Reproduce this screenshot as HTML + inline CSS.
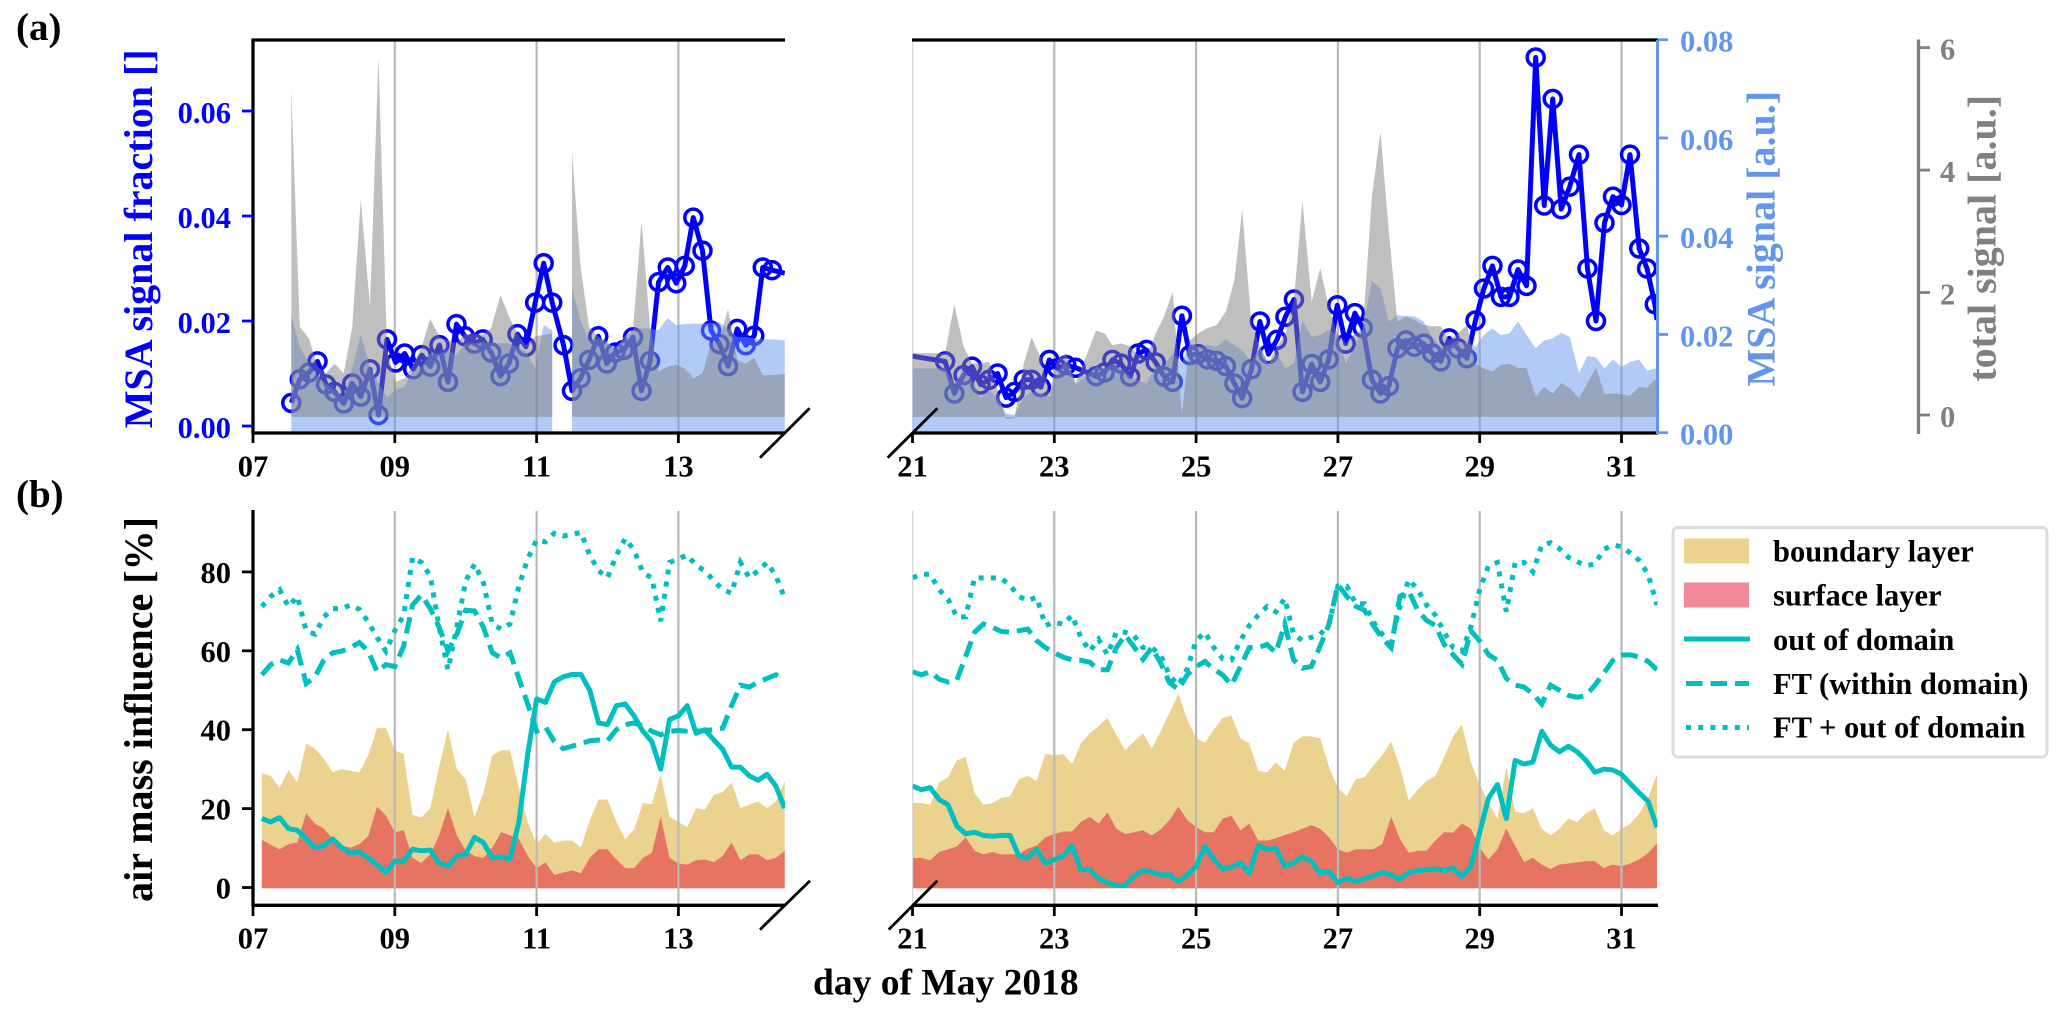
<!DOCTYPE html>
<html>
<head>
<meta charset="utf-8">
<title>MSA signal and air mass influence, May 2018</title>
<style>
html,body{margin:0;padding:0;background:#fff;}
svg{display:block;}
text{font-family:"Liberation Serif",serif;font-weight:bold;}
</style>
</head>
<body>
<svg id="figure" xmlns="http://www.w3.org/2000/svg" width="2067" height="1016" viewBox="0 0 2067 1016">
  <defs>
    <clipPath id="clip-a-left"><rect x="253" y="40" width="532" height="393"/></clipPath>
    <clipPath id="clip-a-right"><rect x="912.5" y="40" width="745" height="393"/></clipPath>
    <clipPath id="clip-b-left"><rect x="253" y="505" width="532" height="400"/></clipPath>
    <clipPath id="clip-b-right"><rect x="912.5" y="505" width="745" height="400"/></clipPath>
  </defs>
  <g id="panel-a-left"></g>
  <g id="panel-a-right"></g>
  <g id="panel-b-left"></g>
  <g id="panel-b-right"></g>
  <g id="axes"></g>

  <text x="16" y="40" font-size="39" fill="#000">(a)</text>
  <text x="16" y="507" font-size="39" fill="#000">(b)</text>
  <text transform="translate(152,238.8) rotate(-90)" text-anchor="middle" font-size="40" fill="#0000ff">MSA signal fraction []</text>
  <text transform="translate(1774.5,238.7) rotate(-90)" text-anchor="middle" font-size="40" fill="#6495ed">MSA signal [a.u.]</text>
  <text transform="translate(1995.5,238.3) rotate(-90)" text-anchor="middle" font-size="40" fill="#808080">total signal [a.u.]</text>
  <text transform="translate(152,709.5) rotate(-90)" text-anchor="middle" font-size="40" fill="#000">air mass influence [%]</text>
  <text x="813" y="994.5" font-size="37.5" fill="#000">day of May 2018</text>

  <g>
    <rect x="1673" y="527.5" width="374" height="229.5" rx="5" fill="#fff" stroke="#dcdcdc" stroke-width="3"/>
    <rect x="1684" y="538.5" width="65" height="25" fill="#daa520" fill-opacity="0.5"/>
    <rect x="1684" y="582.5" width="65" height="25" fill="#e11535" fill-opacity="0.5"/>
    <line x1="1684" x2="1750" y1="639" y2="639" stroke="#00bfbf" stroke-width="5"/>
    <line x1="1686" x2="1749" y1="683.5" y2="683.5" stroke="#00bfbf" stroke-width="5" stroke-dasharray="16.5 8"/>
    <line x1="1686" x2="1749" y1="727.5" y2="727.5" stroke="#00bfbf" stroke-width="5" stroke-dasharray="5 7.2"/>
    <text x="1773" y="561.5" font-size="30.5" fill="#000">boundary layer</text>
    <text x="1773" y="605.5" font-size="30.5" fill="#000">surface layer</text>
    <text x="1773" y="650" font-size="30.5" fill="#000">out of domain</text>
    <text x="1773" y="694" font-size="30.5" fill="#000">FT (within domain)</text>
    <text x="1773" y="737.5" font-size="30.5" fill="#000">FT + out of domain</text>
  </g>
</svg>

<script>
// ---------- tick data ----------
const xTickDaysLeft = [7, 9, 11, 13];
const xTickDaysRight = [21, 23, 25, 27, 29, 31];
const xTickLabelsLeft = ["07", "09", "11", "13"];
const xTickLabelsRight = ["21", "23", "25", "27", "29", "31"];
const fractionTicks = [0, 0.02, 0.04, 0.06];
const fractionTickLabels = ["0.00", "0.02", "0.04", "0.06"];
const msaTicks = [0, 0.02, 0.04, 0.06, 0.08];
const msaTickLabels = ["0.00", "0.02", "0.04", "0.06", "0.08"];
const totalTicks = [0, 2, 4, 6];
const totalTickLabels = ["0", "2", "4", "6"];
const influenceTicks = [0, 20, 40, 60, 80];
const influenceTickLabels = ["0", "20", "40", "60", "80"];

// ---------- panel (a): first period ----------
const timesALeft = [7.54,7.66,7.79,7.91,8.03,8.15,8.28,8.40,8.52,8.65,8.77,8.89,9.01,9.14,9.26,9.38,9.50,9.63,9.75,9.87,9.99,10.12,10.24,10.36,10.49,10.61,10.73,10.85,10.98,11.10,11.22,11.38,11.50,11.62,11.74,11.87,11.99,12.11,12.23,12.36,12.48,12.60,12.72,12.85,12.97,13.09,13.21,13.34,13.46,13.58,13.70,13.83,13.95,14.07,14.19,14.32,14.5];
const fractionLeft = [0.0044,0.0089,0.0102,0.0123,0.0079,0.0065,0.0043,0.0081,0.0056,0.0108,0.0021,0.0165,0.0121,0.0138,0.0108,0.0135,0.0113,0.0154,0.0084,0.0194,0.0171,0.0157,0.0165,0.0140,0.0095,0.0119,0.0175,0.0151,0.0235,0.0310,0.0235,0.0154,0.0067,0.0091,0.0126,0.0171,0.0119,0.0140,0.0145,0.0169,0.0067,0.0124,0.0274,0.0302,0.0272,0.0305,0.0397,0.0334,0.0182,0.0156,0.0114,0.0185,0.0154,0.0172,0.0302,0.0297,0.0291];
const msaLeft = [0.0237,0.0175,0.0141,0.0114,0.0100,0.0087,0.0073,0.0134,0.0199,0.0134,0.0100,0.0073,0.0087,0.0094,0.0127,0.0134,0.0161,0.0161,0.0168,0.0158,0.0182,0.0182,0.0185,0.0182,0.0182,0.0182,0.0175,0.0165,0.0131,0.0219,0.0209,null,0.0292,0.0229,0.0188,0.0192,0.0182,0.0175,0.0188,0.0209,0.0212,0.0212,0.0209,0.0233,0.0219,0.0221,0.0222,0.0222,0.0224,0.0224,0.0212,0.0195,0.0195,0.0192,0.0190,0.0190,0.0188];
const totalLeft = [5.32,1.44,1.25,0.79,0.68,0.84,0.68,1.44,3.52,1.77,5.85,1.06,0.54,0.60,0.82,1.12,1.57,1.28,1.22,1.17,1.33,1.33,1.31,1.42,1.96,1.61,1.33,1.14,1.28,1.31,1.33,null,4.30,2.42,1.44,1.28,1.20,1.06,1.28,1.39,3.16,1.42,0.71,0.79,0.82,0.76,0.60,0.68,1.17,1.22,1.73,0.90,0.84,0.93,0.65,0.65,0.67];

// ---------- panel (a): second period ----------
const timesARight = [21,21.46,21.59,21.72,21.84,21.96,22.08,22.20,22.32,22.44,22.57,22.68,22.81,22.93,23.04,23.17,23.30,23.59,23.71,23.82,23.94,24.07,24.18,24.30,24.43,24.55,24.67,24.80,24.91,25.03,25.16,25.29,25.42,25.54,25.65,25.78,25.90,26.02,26.14,26.26,26.38,26.50,26.63,26.75,26.87,26.99,27.11,27.24,27.35,27.48,27.60,27.72,27.84,27.96,28.08,28.21,28.33,28.45,28.57,28.69,28.82,28.94,29.06,29.18,29.30,29.42,29.54,29.66,29.79,29.91,30.03,30.15,30.27,30.40,30.52,30.64,30.76,30.88,31.00,31.12,31.25,31.36,31.47,31.5];
const fractionRight = [0.0133,0.0123,0.0062,0.0097,0.0113,0.0079,0.0088,0.0100,0.0054,0.0065,0.0088,0.0088,0.0074,0.0126,0.0110,0.0116,0.0111,0.0095,0.0102,0.0126,0.0119,0.0094,0.0138,0.0145,0.0121,0.0094,0.0084,0.0210,0.0135,0.0137,0.0127,0.0124,0.0114,0.0081,0.0053,0.0108,0.0199,0.0137,0.0164,0.0208,0.0241,0.0065,0.0118,0.0084,0.0127,0.0230,0.0157,0.0215,0.0187,0.0088,0.0062,0.0076,0.0148,0.0163,0.0151,0.0157,0.0138,0.0123,0.0167,0.0148,0.0129,0.0201,0.0262,0.0305,0.0246,0.0246,0.0298,0.0267,0.0702,0.0420,0.0623,0.0413,0.0456,0.0517,0.0300,0.0200,0.0387,0.0437,0.0421,0.0517,0.0338,0.0300,0.0232,0.0202];
const msaRight = [0.0131,0.0131,0.0100,0.0127,0.0107,0.0070,0.0087,0.0070,0.0039,0.0036,0.0073,0.0083,0.0080,0.0073,0.0121,0.0148,0.0097,0.0134,0.0131,0.0141,0.0131,0.0114,0.0107,0.0100,0.0134,0.0138,0.0161,0.0141,0.0182,0.0175,0.0178,0.0175,0.0190,0.0178,0.0168,0.0144,0.0175,0.0141,0.0161,0.0131,0.0141,0.0229,0.0195,0.0199,0.0209,0.0199,0.0141,0.0175,0.0212,0.0309,0.0294,0.0226,0.0239,0.0237,0.0237,0.0226,0.0195,0.0175,0.0178,0.0188,0.0182,0.0175,0.0199,0.0212,0.0199,0.0202,0.0226,0.0199,0.0172,0.0188,0.0192,0.0203,0.0195,0.0121,0.0156,0.0153,0.0131,0.0149,0.0134,0.0144,0.0149,0.0126,0.0131,0.0131];
const totalRight = [1.01,1.01,1.81,1.12,0.84,0.85,0.87,0.41,-0.07,-0.05,0.84,1.27,0.93,0.35,0.90,1.01,0.52,1.38,1.33,1.14,1.17,1.12,0.98,0.95,1.33,1.61,2.01,0,1.22,1.33,1.42,1.47,1.69,2.20,3.35,1.50,1.12,0.84,1.12,1.33,1.88,3.49,1.85,2.40,1.77,1.33,1.17,1.33,1.39,3.57,4.62,2.97,1.52,1.61,1.55,1.47,1.45,1.45,1.22,1.33,1.47,0.84,0.76,0.71,0.82,0.83,0.77,0.77,0.30,0.46,0.35,0.52,0.44,0.27,0.52,0.77,0.35,0.35,0.34,0.31,0.46,0.44,0.58,0.58];

// ---------- panel (b): first period ----------
const timesBLeft = [7.125,7.25,7.375,7.5,7.625,7.75,7.875,8,8.125,8.25,8.375,8.5,8.625,8.75,8.875,9,9.125,9.25,9.375,9.5,9.625,9.75,9.875,10,10.125,10.25,10.375,10.5,10.625,10.75,10.875,11,11.125,11.25,11.375,11.5,11.625,11.75,11.875,12,12.125,12.25,12.375,12.5,12.625,12.75,12.875,13,13.125,13.25,13.375,13.5,13.625,13.75,13.875,14,14.125,14.25,14.375,14.5];
const boundaryLeft = [28.9,28.3,25.3,29.8,26.6,36.5,35.2,32.6,29.2,30.0,29.6,29.2,33.5,40.4,40.4,34.8,33.9,18.4,17.7,20.1,30.5,40.0,30.0,27.4,17.9,24.0,33.5,34.8,34.8,25.3,16.6,11.0,13.6,11.4,11.9,11.9,10.1,17.1,22.3,22.3,16.6,12.3,14.7,21.4,21.1,28.7,17.9,16.6,15.3,20.1,19.7,23.5,24.2,26.6,20.1,21.0,21.8,20.1,21.8,27.0];
const surfaceLeft = [12.1,10.8,9.7,11.0,11.4,18.8,16.2,14.9,12.3,10.6,10.1,11.0,13.0,20.5,18.2,14.0,14.5,7.5,6.2,8.4,13.2,20.1,13.2,9.3,8.0,7.5,10.1,14.0,13.2,12.3,8.0,4.9,6.4,3.2,3.8,4.3,3.6,7.5,9.7,9.7,7.1,4.9,4.9,7.5,8.8,17.9,7.5,6.1,5.8,6.9,7.1,6.4,8.0,11.4,6.9,8.4,8.4,6.9,7.5,9.3];
const outOfDomainLeft = [17.5,16.6,17.7,14.9,14.5,12.3,10.1,10.6,12.3,10.1,8.7,9.0,7.5,5.8,3.8,6.7,6.7,9.7,9.3,9.5,6.2,5.4,8.0,8.4,12.7,11.4,7.5,7.8,7.3,16.6,33.9,47.8,46.9,52.1,53.4,54.0,54.0,50.0,41.7,41.3,46.1,46.5,43.5,39.6,37.0,30.0,42.6,43.5,46.1,39.1,40.0,37.4,35.0,30.5,30.5,28.3,27.2,28.7,25.7,20.1];
const ftLeft = [53.9,56.5,57.7,56.9,60.3,51.7,53.4,57.7,59.5,59.9,60.8,62.1,59.9,54.7,56.5,56.0,61.2,71.6,74.2,70.7,66.0,59.9,64.2,70.3,70.1,66.0,59.5,58.2,59.5,53.0,46.5,39.6,40.7,37.0,35.2,35.8,36.5,37.2,37.4,37.2,40.0,41.3,41.7,40.9,39.6,38.7,39.6,39.8,39.6,39.6,39.8,40.0,40.4,46.1,51.3,50.8,52.1,53.0,53.9,53.0];
const ftPlusOutLeft = [71.2,73.8,75.5,71.2,73.8,65.1,64.2,68.6,70.7,70.7,71.6,70.5,67.3,63.4,59.9,65.1,69.0,83.7,82.4,79.0,66.0,55.2,66.0,77.7,82.0,77.2,66.8,65.5,66.8,76.4,83.3,88.1,87.6,89.8,89.1,89.5,90.0,84.2,80.3,78.5,84.2,88.5,85.5,79.8,78.5,67.5,82.4,83.3,84.3,81.6,80.3,77.7,75.5,74.6,82.4,78.5,80.3,82.4,79.0,73.3];

// ---------- panel (b): second period ----------
const timesBRight = [21,21.125,21.25,21.375,21.5,21.625,21.75,21.875,22,22.125,22.25,22.375,22.5,22.625,22.75,22.875,23,23.125,23.25,23.375,23.5,23.625,23.75,23.875,24,24.125,24.25,24.375,24.5,24.625,24.75,24.875,25,25.125,25.25,25.375,25.5,25.625,25.75,25.875,26,26.125,26.25,26.375,26.5,26.625,26.75,26.875,27,27.125,27.25,27.375,27.5,27.625,27.75,27.875,28,28.125,28.25,28.375,28.5,28.625,28.75,28.875,29,29.125,29.25,29.375,29.5,29.625,29.75,29.875,30,30.125,30.25,30.375,30.5,30.625,30.75,30.875,31,31.125,31.25,31.375,31.5];
const boundaryRight = [21.4,21.4,21.0,26.6,27.9,32.2,33.1,24.0,21.0,21.4,22.7,23.1,27.4,28.3,27.0,33.9,33.5,33.8,31.3,36.5,39.1,40.9,43.0,38.7,34.8,37.0,39.1,35.2,39.6,44.3,49.1,42.6,37.8,36.7,40.0,43.0,43.5,37.8,36.5,29.6,29.2,31.7,29.6,36.7,38.3,38.3,37.8,30.5,25.3,23.1,27.4,27.9,30.9,33.5,37.0,30.5,22.0,24.8,27.0,28.3,33.1,38.3,41.3,31.8,26.1,21.4,17.5,30.5,19.2,18.8,20.1,14.9,13.2,14.9,17.5,16.6,18.8,20.1,14.5,13.2,14.9,16.2,18.8,22.7,28.7];
const surfaceRight = [7.5,7.5,6.9,9.0,9.7,10.4,12.7,9.3,8.4,9.0,8.4,8.4,8.4,9.9,10.6,12.7,13.6,14.2,14.2,16.6,17.9,16.2,19.0,14.9,13.6,14.0,14.5,13.2,14.7,17.1,20.5,17.1,15.3,14.0,14.0,17.5,18.2,14.5,16.2,11.9,11.9,12.5,13.3,14.0,14.9,15.8,14.9,12.7,9.7,8.8,9.7,9.7,9.7,11.0,17.9,12.3,8.8,9.3,9.3,11.9,14.0,13.9,16.2,14.9,10.1,7.1,9.7,14.9,10.6,6.4,7.5,5.8,4.7,5.8,6.1,6.4,6.7,6.7,4.9,5.8,5.4,6.1,7.1,8.7,11.2];
const outOfDomainRight = [25.7,24.8,25.3,22.3,21.0,15.6,13.6,14.0,13.2,13.0,13.2,13.2,8.0,7.5,9.7,6.1,7.1,8.0,10.6,4.5,4.5,2.3,1.2,0.5,0.5,2.9,4.3,3.9,3.2,3.2,1.5,3.2,5.4,10.4,7.1,4.7,5.2,6.2,3.6,10.6,9.7,9.9,5.4,6.2,7.8,6.7,3.6,4.1,1.2,2.3,1.5,2.3,2.9,3.8,3.2,2.1,3.8,4.3,4.5,4.7,4.3,4.9,2.8,5.4,14.0,22.7,26.1,17.5,32.2,31.3,31.8,39.6,36.1,34.4,35.8,34.4,32.2,29.2,30.0,29.8,28.7,26.3,24.0,21.8,15.3];
const ftRight = [54.7,53.9,54.7,52.8,52.1,52.6,58.6,64.7,66.8,66.0,64.9,64.7,65.1,65.5,62.6,60.8,59.5,58.4,57.7,57.6,57.1,55.2,55.2,60.8,64.0,61.0,57.8,60.8,56.9,51.9,50.2,53.9,56.0,57.3,55.3,53.9,51.3,56.0,60.8,60.8,61.6,59.5,66.8,57.7,55.6,56.0,61.2,66.8,76.8,73.8,71.3,70.3,66.4,63.2,60.8,73.8,75.1,70.3,67.7,66.4,61.6,59.0,56.6,65.1,62.5,59.0,57.6,53.0,51.3,50.8,49.1,46.5,51.3,50.0,48.7,48.2,48.7,51.3,54.3,57.5,58.9,59.0,58.4,57.3,55.2];
const ftPlusOutRight = [78.5,79.4,79.4,75.5,73.1,68.6,68.6,78.5,78.5,78.5,78.4,76.6,73.8,72.7,73.6,66.4,67.3,66.7,69.0,63.4,59.9,62.9,59.0,64.7,64.7,63.8,60.8,60.8,59.0,53.7,51.3,55.4,62.6,64.7,60.8,58.0,57.7,62.6,66.4,69.0,71.2,69.9,73.3,64.2,62.6,63.4,64.1,66.8,76.4,76.4,72.0,71.9,67.3,64.2,62.1,71.2,78.1,75.5,71.6,69.0,64.7,60.8,59.9,66.0,75.5,81.6,82.4,69.9,82.4,82.4,80.0,86.8,87.4,85.9,83.7,82.6,81.6,82.0,85.7,86.8,86.4,84.8,82.9,79.4,71.6];

// ---------- axis functions ----------
const DAY_PX = 70.9;
function xLeft(d) { return 253 + (d - 7) * DAY_PX; }
function xRight(d) { return 912.5 + (d - 21) * DAY_PX; }
function yFraction(v) { return 426 - v * 5250; }
function yMsa(v) { return 432.7 - v * 4912.5; }
function yTotal(v) { return 415 - v * 61.23; }
function yInfluence(v) { return 887.5 - v * 3.945; }

// ---------- helpers ----------
const NS = "http://www.w3.org/2000/svg";
function make(parent, tag, props, text) {
  const el = document.createElementNS(NS, tag);
  for (const k in props) el.setAttribute(k, props[k]);
  if (text !== undefined) el.textContent = text;
  parent.appendChild(el);
  return el;
}
function linePath(xs, ys) {
  let d = "";
  let pen = false;
  for (let i = 0; i < xs.length; i++) {
    if (ys[i] === null) { pen = false; continue; }
    d += (pen ? "L" : "M") + xs[i].toFixed(2) + " " + ys[i].toFixed(2);
    pen = true;
  }
  return d;
}
function areaPath(xs, ys, base) {
  let d = "";
  let seg = [];
  const flush = function () {
    if (!seg.length) return;
    d += "M" + seg[0][0].toFixed(2) + " " + base.toFixed(2);
    for (const p of seg) d += "L" + p[0].toFixed(2) + " " + p[1].toFixed(2);
    d += "L" + seg[seg.length - 1][0].toFixed(2) + " " + base.toFixed(2) + "Z";
    seg = [];
  };
  for (let i = 0; i < xs.length; i++) {
    if (ys[i] === null) { flush(); continue; }
    seg.push([xs[i], ys[i]]);
  }
  flush();
  return d;
}

const GRID = "#b9b9b9";
const BLUE = "#0000ff";
const CORN = "#6495ed";
const GREY = "#808080";
const TEAL = "#00bfbf";

function drawGrid(group, days, xf, top, bottom) {
  days.forEach(function (day) {
    const g = make(group, "line", {x1: xf(day), x2: xf(day), y1: top, y2: bottom, stroke: GRID, "stroke-width": day === 21 ? 1.5 : 2.2});
    
    
  });
}

function drawPanelA(groupId, clipId, days, xf, times, fraction, msa, total, gridDays) {
  const group = document.getElementById(groupId);
  group.setAttribute("clip-path", "url(#" + clipId + ")");
  drawGrid(group, gridDays, xf, 40, 433);
  const xs = times.map(xf);
  const line = make(group, "path", {d: linePath(xs, fraction.map(yFraction)), fill: "none", stroke: BLUE, "stroke-width": 5, "stroke-linejoin": "round"});
  
  
  for (let i = 0; i < times.length; i++) {
    if (times[i] === 21 || times[i] === 14.5 || times[i] === 31.5) continue;
    const c = make(group, "circle", {cx: xs[i], cy: yFraction(fraction[i]), r: 8.5, fill: "none", stroke: BLUE, "stroke-width": 3.5});
    
    
  }
  const msaArea = make(group, "path", {d: areaPath(xs, msa.map(function (v) { return v === null ? null : yMsa(v); }), yMsa(0)), fill: CORN, "fill-opacity": 0.5});
  
  
  const totalArea = make(group, "path", {d: areaPath(xs, total.map(function (v) { return v === null ? null : yTotal(v); }), yTotal(-0.03)), fill: GREY, "fill-opacity": 0.5});
  
  
}

function drawPanelB(groupId, clipId, xf, times, boundary, surface, outDomain, ft, ftOut, gridDays) {
  const group = document.getElementById(groupId);
  group.setAttribute("clip-path", "url(#" + clipId + ")");
  const xs = times.map(xf);
  const bl = make(group, "path", {d: areaPath(xs, boundary.map(yInfluence), yInfluence(-0.2)), fill: "#daa520", "fill-opacity": 0.5});
  
  
  const sl = make(group, "path", {d: areaPath(xs, surface.map(yInfluence), yInfluence(-0.2)), fill: "#e11535", "fill-opacity": 0.5});
  
  
  drawGrid(group, gridDays, xf, 511, 905);
  const l3 = make(group, "path", {d: linePath(xs, ftOut.map(yInfluence)), fill: "none", stroke: TEAL, "stroke-width": 5, "stroke-dasharray": "5 7.2"});
  
  
  const l2 = make(group, "path", {d: linePath(xs, ft.map(yInfluence)), fill: "none", stroke: TEAL, "stroke-width": 5, "stroke-dasharray": "16.5 8"});
  
  
  const l1 = make(group, "path", {d: linePath(xs, outDomain.map(yInfluence)), fill: "none", stroke: TEAL, "stroke-width": 5, "stroke-linejoin": "round"});
  
  
}

drawPanelA("panel-a-left", "clip-a-left", xTickDaysLeft, xLeft, timesALeft, fractionLeft, msaLeft, totalLeft, [9, 11, 13]);
drawPanelA("panel-a-right", "clip-a-right", xTickDaysRight, xRight, timesARight, fractionRight, msaRight, totalRight, [21, 23, 25, 27, 29, 31]);
drawPanelB("panel-b-left", "clip-b-left", xLeft, timesBLeft, boundaryLeft, surfaceLeft, outOfDomainLeft, ftLeft, ftPlusOutLeft, [9, 11, 13]);
drawPanelB("panel-b-right", "clip-b-right", xRight, timesBRight, boundaryRight, surfaceRight, outOfDomainRight, ftRight, ftPlusOutRight, [21, 23, 25, 27, 29, 31]);

// ---------- axes ----------
const axes = document.getElementById("axes");

function segment(x1, y1, x2, y2, color, width, name) {
  const s = make(axes, "line", {x1: x1, y1: y1, x2: x2, y2: y2, stroke: color, "stroke-width": width});
  
  
  return s;
}
function tickText(x, y, anchor, color, str, name) {
  const t = make(axes, "text", {x: x, y: y, "text-anchor": anchor, fill: color, "font-size": 30.5}, str);
  
  
  return t;
}

// spines
segment(251.5, 40, 785, 40, "#000", 3.3, "panel-a-top-spine-left");
segment(912, 40, 1658, 40, "#000", 3.3, "panel-a-top-spine-right");
segment(253, 39, 253, 434, "#000", 3.3, "panel-a-left-spine");
segment(251.5, 433, 785, 433, "#000", 3.3, "panel-a-bottom-spine-left");
segment(912, 433, 1658, 433, "#000", 3.3, "panel-a-bottom-spine-right");
segment(1657.5, 40, 1657.5, 434, CORN, 3, "msa-signal-spine");
segment(1918.5, 39.5, 1918.5, 434, GREY, 3.3, "total-signal-spine");
segment(253, 510, 253, 906, "#000", 3.3, "panel-b-left-spine");
segment(251.5, 905.3, 785, 905.3, "#000", 3.3, "panel-b-bottom-spine-left");
segment(912, 905.3, 1658, 905.3, "#000", 3.3, "panel-b-bottom-spine-right");

// axis-break marks
segment(760, 457.7, 809.6, 408.3, "#000", 2.8, "axis-break-a-left");
segment(887.7, 457.7, 937.4, 408.3, "#000", 2.8, "axis-break-a-right");
segment(760, 929.6, 810, 880.7, "#000", 2.8, "axis-break-b-left");
segment(888.7, 929.6, 937.4, 880.7, "#000", 2.8, "axis-break-b-right");

// x ticks
xTickDaysLeft.forEach(function (day, i) {
  segment(xLeft(day), 433, xLeft(day), 443, "#000", 2.8, "x-tick-a");
  tickText(xLeft(day), 476.5, "middle", "#000", xTickLabelsLeft[i], "x-tick-label-a");
  segment(xLeft(day), 905, xLeft(day), 916, "#000", 2.8, "x-tick-b");
  tickText(xLeft(day), 948.5, "middle", "#000", xTickLabelsLeft[i], "x-tick-label-b");
});
xTickDaysRight.forEach(function (day, i) {
  segment(xRight(day), 433, xRight(day), 443, "#000", 2.8, "x-tick-a");
  tickText(xRight(day), 476.5, "middle", "#000", xTickLabelsRight[i], "x-tick-label-a");
  segment(xRight(day), 905, xRight(day), 916, "#000", 2.8, "x-tick-b");
  tickText(xRight(day), 948.5, "middle", "#000", xTickLabelsRight[i], "x-tick-label-b");
});

// y ticks
fractionTicks.forEach(function (v, i) {
  segment(242, yFraction(v), 253, yFraction(v), BLUE, 2.8, "fraction-tick");
  tickText(231, yFraction(v) + 12, "end", BLUE, fractionTickLabels[i], "fraction-tick-label");
});
msaTicks.forEach(function (v, i) {
  segment(1657.5, yMsa(v), 1668, yMsa(v), CORN, 2.8, "msa-signal-tick");
  tickText(1680, yMsa(v) + 12, "start", CORN, msaTickLabels[i], "msa-signal-tick-label");
});
totalTicks.forEach(function (v, i) {
  segment(1918.5, yTotal(v), 1930, yTotal(v), GREY, 2.8, "total-signal-tick");
  tickText(1940, yTotal(v) + 12, "start", GREY, totalTickLabels[i], "total-signal-tick-label");
});
influenceTicks.forEach(function (v, i) {
  segment(242, yInfluence(v), 253, yInfluence(v), "#000", 2.8, "influence-tick");
  tickText(231, yInfluence(v) + 11, "end", "#000", influenceTickLabels[i], "influence-tick-label");
});
</script>
</body>
</html>
